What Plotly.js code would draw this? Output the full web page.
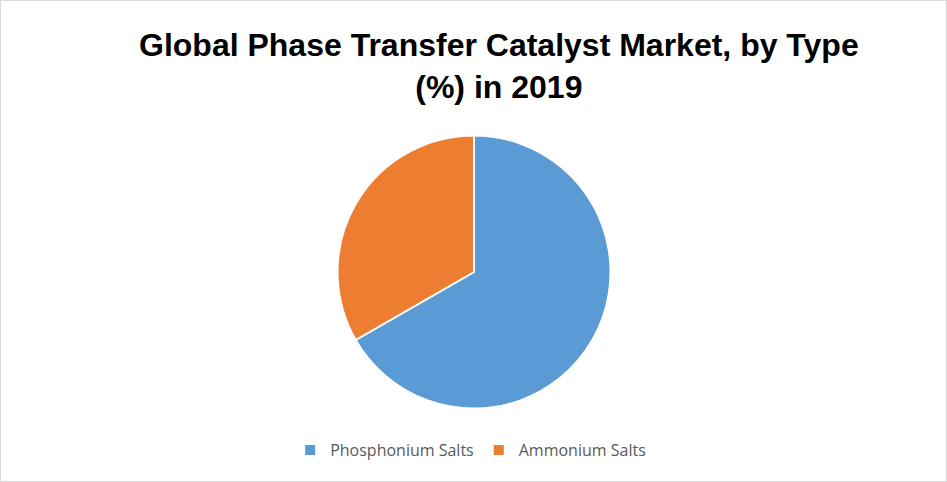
<!DOCTYPE html>
<html><head><meta charset="utf-8">
<script src="https://cdn.plot.ly/plotly-3.0.1.min.js"></script>
<style>body{margin:0;}#wrap{position:relative;width:947px;height:482px;}#chart{position:absolute;left:0;top:0;width:947px;height:482px;}#frame{position:absolute;left:0;top:0;width:945px;height:480px;border:1px solid #d9d9d9;pointer-events:none;}</style>
</head><body><div id="wrap"><div id="chart"></div><div id="frame"></div></div>
<script>
const categories = ["Phosphonium Salts", "Ammonium Salts"];
const shares = [66.7, 33.3];
const colors = ["#5B9BD5", "#ED7D31"];
const titleText = "Global Phase Transfer Catalyst Market, by Type<br>(%) in 2019";

const trace = {
  type: "pie",
  labels: categories,
  values: shares,
  sort: false,
  direction: "clockwise",
  rotation: 0,
  textinfo: "none",
  hoverinfo: "label+percent",
  marker: {colors: colors, line: {color: "#ffffff", width: 2}},
  domain: {x: [0.3564, 0.6447], y: [0.1525, 0.7189]}
};
const layout = {
  width: 947, height: 482,
  margin: {l: 0, r: 0, t: 0, b: 0},
  paper_bgcolor: "#ffffff",
  showlegend: true,
  legend: {orientation: "h", x: 0.497, xanchor: "center", y: 0.066, yanchor: "middle",
    font: {family: "Open Sans, sans-serif", size: 16, color: "#595959"}, itemwidth: 30},
  annotations: [{
    text: titleText, xref: "paper", yref: "paper", x: 0.527, y: 0.948, xanchor: "center", yanchor: "top",
    showarrow: false, font: {family: "Liberation Sans, Arial, sans-serif", size: 32, color: "#000000", weight: "bold"}
  }]
};
Plotly.newPlot("chart", [trace], layout, {displayModeBar: false});
</script></body></html>
